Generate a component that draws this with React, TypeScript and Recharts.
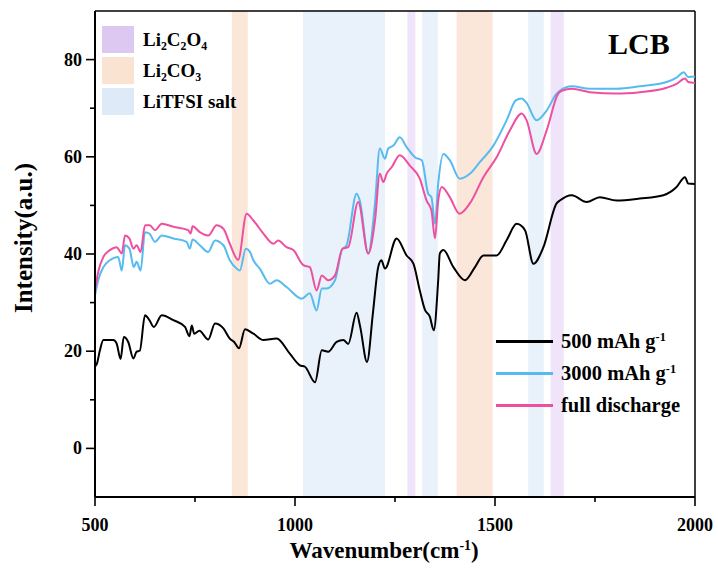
import React from 'react';
import { LineChart, Line, XAxis, YAxis, ReferenceArea, ReferenceLine } from 'recharts';

// [wavenumber, intensity]
const curve500: [number, number][] = [
  [500, 16.9], [505, 17.5], [512, 20.1], [521, 22.3], [546, 22.3], [554, 21.6], [564, 18.4], [572, 22.9],
  [583, 21.9], [596, 18.5], [604, 19.9], [612, 20.1], [625, 27.4], [636, 26.4], [647, 25.0], [667, 27.4],
  [696, 26.4], [725, 25.0], [736, 23.1], [742, 25.3], [748, 23.6], [761, 24.2], [783, 22.4], [800, 25.7],
  [821, 24.7], [837, 22.6], [848, 21.9], [860, 20.6], [875, 24.5], [896, 23.6], [921, 22.3], [954, 22.6],
  [987, 19.5], [1012, 17.1], [1025, 16.8], [1050, 13.6], [1067, 20.2], [1083, 19.9], [1104, 21.9], [1121, 22.3],
  [1133, 21.5], [1154, 27.9], [1163, 25.0], [1180, 17.8], [1195, 28.0], [1208, 37.3], [1216, 38.7], [1225, 37.0],
  [1254, 43.2], [1279, 39.7], [1296, 38.0], [1312, 32.5], [1325, 28.5], [1337, 27.1], [1347, 24.3], [1358, 34.6],
  [1362, 40.1], [1371, 40.8], [1396, 37.3], [1425, 34.6], [1450, 37.3], [1471, 39.7], [1504, 39.7], [1530, 43.0],
  [1554, 46.2], [1575, 44.9], [1596, 38.0], [1621, 41.4], [1654, 50.4], [1662, 51.0], [1692, 52.1], [1729, 50.7],
  [1762, 51.7], [1804, 51.0], [1862, 51.4], [1921, 52.1], [1954, 53.8], [1975, 55.8], [1983, 54.5], [2000, 54.4],
];

const curve3000: [number, number][] = [
  [500, 31.5], [508, 34.6], [521, 37.3], [537, 38.7], [558, 39.4], [567, 36.6], [575, 41.8], [586, 41.1],
  [597, 37.3], [604, 38.4], [614, 36.6], [625, 44.5], [636, 44.2], [650, 42.5], [667, 43.8], [696, 43.2],
  [729, 42.5], [737, 41.1], [744, 43.0], [762, 41.8], [783, 40.4], [800, 42.8], [821, 41.8], [837, 38.7],
  [854, 37.0], [862, 36.6], [877, 41.1], [887, 40.5], [896, 38.7], [912, 37.0], [937, 33.9], [954, 34.6],
  [979, 33.2], [1017, 30.8], [1037, 31.9], [1054, 28.4], [1067, 32.9], [1079, 32.9], [1100, 34.6], [1117, 40.8],
  [1129, 41.8], [1154, 52.4], [1162, 51.0], [1183, 40.1], [1200, 50.4], [1212, 61.7], [1225, 59.6], [1233, 61.7],
  [1246, 62.3], [1262, 64.0], [1279, 62.0], [1300, 59.9], [1317, 59.3], [1333, 52.4], [1341, 51.7], [1350, 46.2],
  [1358, 54.5], [1371, 60.6], [1387, 59.3], [1412, 55.5], [1437, 56.5], [1462, 58.9], [1496, 62.3], [1529, 67.5],
  [1552, 71.6], [1566, 72.0], [1578, 71.2], [1604, 67.5], [1629, 69.5], [1654, 73.0], [1662, 73.6], [1692, 74.5],
  [1737, 74.0], [1804, 74.0], [1862, 74.5], [1929, 75.4], [1954, 76.3], [1972, 77.4], [1983, 76.4], [2000, 76.5],
];

const curveFull: [number, number][] = [
  [500, 32.5], [508, 36.3], [521, 39.4], [537, 40.8], [554, 41.4], [567, 40.1], [575, 43.8], [586, 43.2],
  [596, 41.1], [604, 41.8], [614, 40.4], [625, 45.9], [637, 45.9], [650, 44.9], [667, 46.2], [696, 45.6],
  [733, 44.9], [739, 44.2], [744, 45.7], [762, 44.5], [783, 43.8], [804, 45.9], [821, 45.2], [837, 42.1],
  [858, 38.8], [879, 48.3], [896, 46.9], [921, 44.2], [946, 42.1], [958, 42.8], [979, 41.4], [996, 40.8],
  [1021, 37.7], [1037, 37.3], [1054, 32.5], [1067, 35.6], [1083, 34.6], [1100, 35.6], [1119, 41.1], [1133, 41.4],
  [1158, 50.7], [1183, 40.1], [1200, 46.9], [1212, 56.5], [1221, 54.8], [1229, 56.5], [1242, 57.9], [1262, 60.3],
  [1287, 58.2], [1312, 55.5], [1329, 51.0], [1341, 49.0], [1350, 43.2], [1358, 51.0], [1367, 53.8], [1387, 51.7],
  [1411, 48.3], [1437, 50.4], [1471, 55.8], [1504, 59.9], [1537, 65.4], [1567, 68.9], [1579, 67.5], [1604, 60.6],
  [1629, 65.4], [1658, 73.0], [1667, 73.6], [1692, 74.0], [1737, 73.3], [1804, 73.0], [1862, 73.3], [1929, 74.2],
  [1954, 75.0], [1975, 76.1], [1983, 75.4], [2000, 75.2],
];

// shaded assignment bands: [from, to, species]
const bands: [number, number, string][] = [
  [842, 882, 'carbonate'],
  [1020, 1225, 'salt'],
  [1281, 1301, 'oxalate'],
  [1318, 1357, 'salt'],
  [1404, 1494, 'carbonate'],
  [1583, 1622, 'salt'],
  [1639, 1672, 'oxalate'],
];

const xTicks = [500, 750, 1000, 1250, 1500, 1750, 2000];
const yTicks = [0, 10, 20, 30, 40, 50, 60, 70, 80];

const bandFill: Record<string, string> = { carbonate: '#fbe7da', salt: '#e9f1fa', oxalate: '#efe4f9' };
const swatch: Record<string, string> = { carbonate: '#fbe3d1', salt: '#deeaf7', oxalate: '#dcc8f1' };

const FONT = '"Liberation Serif", "Times New Roman", serif';

const toPts = (arr: [number, number][]) => arr.map(([x, y]) => ({ x, y }));

const XTick = (props: any) => {
  const { x, y, payload } = props;
  const major = payload.value % 500 === 0;
  return (
    <g>
      <line x1={x} x2={x} y1={y} y2={y + (major ? 9 : 5)} stroke="#000" strokeWidth={1.6} />
      {major && (
        <text x={x} y={y + 34} textAnchor="middle" fontFamily={FONT} fontWeight="bold" fontSize={18} fill="#000">
          {payload.value}
        </text>
      )}
    </g>
  );
};

const YTick = (props: any) => {
  const { x, y, payload } = props;
  const major = payload.value % 20 === 0;
  return (
    <g>
      <line x1={x} x2={x - (major ? 9 : 5)} y1={y} y2={y} stroke="#000" strokeWidth={1.6} />
      {major && (
        <text x={x - 13} y={y + 6} textAnchor="end" fontFamily={FONT} fontWeight="bold" fontSize={18} fill="#000">
          {payload.value}
        </text>
      )}
    </g>
  );
};

const boldText: React.CSSProperties = { fontFamily: FONT, fontWeight: 'bold', color: '#000', position: 'absolute', whiteSpace: 'nowrap' };
const sub: React.CSSProperties = { fontSize: '0.62em', verticalAlign: '-0.3em', lineHeight: 0 };
const sup: React.CSSProperties = { fontSize: '0.6em', verticalAlign: '0.6em', lineHeight: 0 };

export default function App() {
  const lineLegend = [
    { label: <>500 mAh g<span style={sup}>-1</span></>, color: '#000000' },
    { label: <>3000 mAh g<span style={sup}>-1</span></>, color: '#56bbef' },
    { label: <>full discharge</>, color: '#ee4f9f' },
  ];
  const bandLegend = [
    { key: 'oxalate', label: <>Li<span style={sub}>2</span>C<span style={sub}>2</span>O<span style={sub}>4</span></> },
    { key: 'carbonate', label: <>Li<span style={sub}>2</span>CO<span style={sub}>3</span></> },
    { key: 'salt', label: <>LiTFSI salt</> },
  ];

  return (
    <div style={{ position: 'absolute', left: 0, top: 0, width: 718, height: 568, background: '#fff' }}>
      <LineChart width={718} height={568} margin={{ top: 11, right: 23, left: 35, bottom: 21 }}>
        {bands.map(([a, b, k], i) => (
          <ReferenceArea key={i} x1={a} x2={b} y1={-10} y2={90} fill={bandFill[k]} fillOpacity={1} stroke="none" ifOverflow="hidden" />
        ))}
        <XAxis
          dataKey="x"
          type="number"
          domain={[500, 2000]}
          ticks={xTicks}
          interval={0}
          allowDataOverflow
          height={50}
          tickSize={0}
          tickMargin={0}
          tickLine={false}
          axisLine={{ stroke: '#000', strokeWidth: 2 }}
          tick={<XTick />}
        />
        <YAxis
          type="number"
          domain={[-10, 90]}
          ticks={yTicks}
          interval={0}
          allowDataOverflow
          width={60}
          tickSize={0}
          tickMargin={0}
          tickLine={false}
          axisLine={{ stroke: '#000', strokeWidth: 2 }}
          tick={<YTick />}
        />
        <ReferenceLine y={90} stroke="#000" strokeWidth={1.5} />
        <ReferenceLine x={2000} stroke="#000" strokeWidth={1.5} />
        <Line data={toPts(curve500)} dataKey="y" type="monotone" stroke="#000000" strokeWidth={2} dot={false} activeDot={false} isAnimationActive={false} />
        <Line data={toPts(curve3000)} dataKey="y" type="monotone" stroke="#56bbef" strokeWidth={2} dot={false} activeDot={false} isAnimationActive={false} />
        <Line data={toPts(curveFull)} dataKey="y" type="monotone" stroke="#ee4f9f" strokeWidth={2} dot={false} activeDot={false} isAnimationActive={false} />
      </LineChart>

      {bandLegend.map((b, i) => (
        <React.Fragment key={b.key}>
          <div style={{ position: 'absolute', left: 102, top: 26 + i * 31, width: 32, height: 27, background: swatch[b.key] }} />
          <div style={{ ...boldText, left: 143, top: 26 + i * 31, height: 27, lineHeight: '27px', fontSize: 19 }}>{b.label}</div>
        </React.Fragment>
      ))}

      {lineLegend.map((l, i) => (
        <React.Fragment key={i}>
          <div style={{ position: 'absolute', left: 496, top: 340 + i * 32, width: 57, height: 3, background: l.color }} />
          <div style={{ ...boldText, left: 561, top: 326 + i * 32, height: 30, lineHeight: '30px', fontSize: 20.5 }}>{l.label}</div>
        </React.Fragment>
      ))}

      <div style={{ ...boldText, left: 608, top: 26, fontSize: 30, lineHeight: '36px' }}>LCB</div>

      <div
        style={{
          ...boldText,
          left: 24,
          top: 238,
          fontSize: 25,
          transform: 'translate(-50%, -50%) rotate(-90deg)',
        }}
      >
        Intensity(a.u.)
      </div>
      <div style={{ ...boldText, left: 384, top: 551, fontSize: 23, transform: 'translate(-50%, -50%)' }}>
        Wavenumber(cm<span style={sup}>-1</span>)
      </div>
    </div>
  );
}
